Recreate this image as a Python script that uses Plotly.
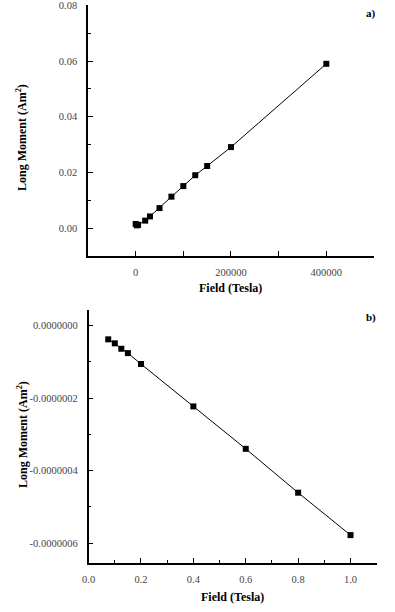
import plotly.graph_objects as go

# Panel a data
field_a = [0, 2500, 5000, 20000, 30000, 50000, 75000, 100000, 125000, 150000, 200000, 400000]
moment_a = [0.0015, 0.0010, 0.0012, 0.0027, 0.0042, 0.0072, 0.0113, 0.0151, 0.0190, 0.0223, 0.0291, 0.0590]
xa_ticks = [0, 200000, 400000]
xa_ticktext = ["0", "200000", "400000"]
ya_ticks = [0.0, 0.02, 0.04, 0.06, 0.08]
ya_ticktext = ["0.00", "0.02", "0.04", "0.06", "0.08"]

# Panel b data
field_b = [0.075, 0.1, 0.125, 0.15, 0.2, 0.4, 0.6, 0.8, 1.0]
moment_b = [-0.38e-7, -0.49e-7, -0.64e-7, -0.76e-7, -1.06e-7, -2.23e-7, -3.40e-7, -4.61e-7, -5.78e-7]
xb_ticks = [0.0, 0.2, 0.4, 0.6, 0.8, 1.0]
xb_ticktext = ["0.0", "0.2", "0.4", "0.6", "0.8", "1.0"]
yb_ticks = [0.0, -2e-7, -4e-7, -6e-7]
yb_ticktext = ["0.0000000", "-0.0000002", "-0.0000004", "-0.0000006"]

FONT = "Liberation Serif"

fig = go.Figure()
fig.add_trace(go.Scatter(x=field_a, y=moment_a, mode="lines+markers",
                         line=dict(color="black", width=1),
                         marker=dict(symbol="square", size=6, color="black"),
                         xaxis="x", yaxis="y", showlegend=False, cliponaxis=False))
fig.add_trace(go.Scatter(x=field_b, y=moment_b, mode="lines+markers",
                         line=dict(color="black", width=1),
                         marker=dict(symbol="square", size=6, color="black"),
                         xaxis="x2", yaxis="y2", showlegend=False, cliponaxis=False))

axis_common = dict(showline=True, linecolor="black", linewidth=1.5, showgrid=False,
                   zeroline=False, ticks="inside", ticklen=5, tickwidth=1, tickcolor="black",
                   tickmode="array", automargin=False, ticklabeloverflow="allow",
                   tickfont=dict(family=FONT, size=10.5, color="#444"))

fig.update_layout(
    width=395, height=612,
    margin=dict(l=0, r=0, t=0, b=0, autoexpand=False),
    paper_bgcolor="white", plot_bgcolor="white",
    font=dict(family=FONT),
    xaxis=dict(axis_common, domain=[0.2228, 0.9468], range=[-100000, 500000],
               tickvals=xa_ticks, ticktext=xa_ticktext, anchor="y", ticklabelstandoff=6,
               minor=dict(tickmode="array", tickvals=[100000, 300000, 500000], ticks="inside",
                          ticklen=5, tickcolor="black")),
    yaxis=dict(axis_common, domain=[0.5817, 0.9918], range=[-0.01, 0.0801],
               tickvals=ya_ticks, ticktext=ya_ticktext, anchor="x", ticklabelstandoff=7,
               minor=dict(tickmode="array", tickvals=[-0.01, 0.01, 0.03, 0.05, 0.07], ticks="inside",
                          ticklen=3, tickcolor="black")),
    xaxis2=dict(axis_common, domain=[0.2243, 0.9537], range=[0, 1.1],
                tickvals=xb_ticks, ticktext=xb_ticktext, anchor="y2", ticklabelstandoff=6,
                minor=dict(tickmode="array", tickvals=[0.1, 0.3, 0.5, 0.7, 0.9, 1.1], ticks="inside",
                           ticklen=3, tickcolor="black")),
    yaxis2=dict(axis_common, domain=[0.0806, 0.4935], range=[-6.54e-7, 0.43e-7],
                tickvals=yb_ticks, ticktext=yb_ticktext, anchor="x2", ticklabelstandoff=7,
                minor=dict(tickmode="array", tickvals=[-1e-7, -3e-7, -5e-7], ticks="inside",
                           ticklen=3, tickcolor="black")),
    annotations=[
        dict(text="<b>Long Moment (Am<sup>2</sup>)</b>", x=22/395, y=1-138/612, xref="paper", yref="paper",
             xanchor="center", yanchor="middle",
             textangle=-90, showarrow=False, font=dict(family=FONT, size=12, color="black")),
        dict(text="<b>Field (Tesla)</b>", x=230/395, y=1-288/612, xref="paper", yref="paper",
             xanchor="center", yanchor="middle",
             showarrow=False, font=dict(family=FONT, size=12, color="black")),
        dict(text="<b>a)</b>", x=371/395, y=1-13/612, xref="paper", yref="paper",
             xanchor="center", yanchor="middle",
             showarrow=False, font=dict(family=FONT, size=11, color="black")),
        dict(text="<b>Long Moment (Am<sup>2</sup>)</b>", x=22/395, y=1-435/612, xref="paper", yref="paper",
             xanchor="center", yanchor="middle",
             textangle=-90, showarrow=False, font=dict(family=FONT, size=12, color="black")),
        dict(text="<b>Field (Tesla)</b>", x=232/395, y=1-597/612, xref="paper", yref="paper",
             xanchor="center", yanchor="middle",
             showarrow=False, font=dict(family=FONT, size=12, color="black")),
        dict(text="<b>b)</b>", x=371/395, y=1-317/612, xref="paper", yref="paper",
             xanchor="center", yanchor="middle",
             showarrow=False, font=dict(family=FONT, size=11, color="black")),
    ],
)

fig.write_html("out.html", config={"displayModeBar": False},
               post_script="document.body.style.margin='0';")
